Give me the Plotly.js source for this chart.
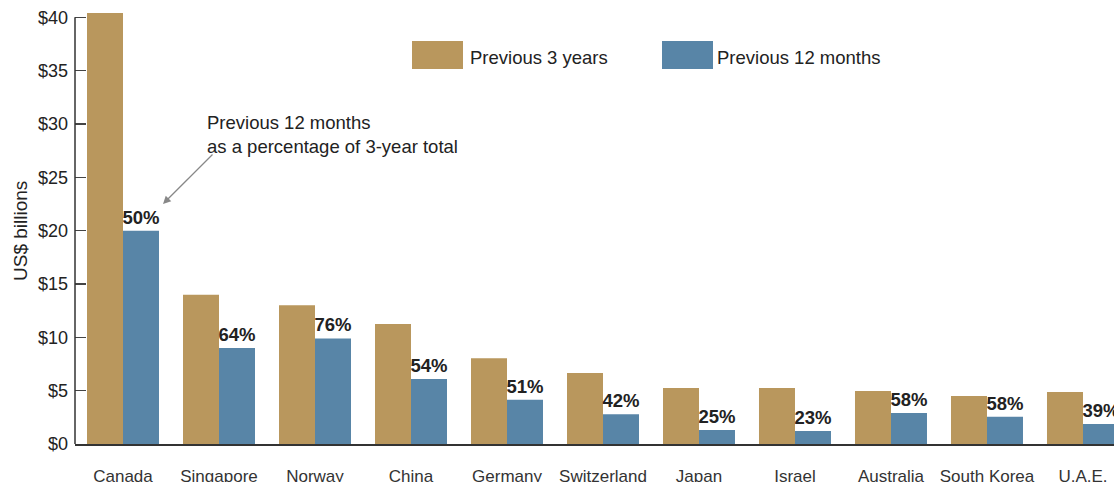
<!DOCTYPE html>
<html>
<head>
<meta charset="utf-8">
<script src="https://cdn.plot.ly/plotly-3.0.1.min.js"></script>
<style>html,body{margin:0;padding:0;background:#fff;}#chart{width:1114px;height:482px;}</style>
</head>
<body>
<div id="chart"></div>
<script>
const countries = ["Canada","Singapore","Norway","China","Germany","Switzerland","Japan","Israel","Australia","South Korea","U.A.E."];
const previous3Years = [40.4, 14.0, 13.0, 11.25, 8.05, 6.65, 5.25, 5.25, 4.97, 4.5, 4.87];
const previous12Months = [20.0, 9.0, 9.9, 6.1, 4.15, 2.8, 1.31, 1.22, 2.9, 2.55, 1.88];
const percentLabels = ["50%","64%","76%","54%","51%","42%","25%","23%","58%","58%","39%"];
const yTickValues = [0,5,10,15,20,25,30,35,40];
const yTickLabels = ["$0","$5","$10","$15","$20","$25","$30","$35","$40"];
const seriesNames = ["Previous 3 years","Previous 12 months"];
const colors = ["#B9975D","#5885A7"];

const baseFont = "Liberation Sans, Arial, Helvetica, sans-serif";

const traces = [
  {type:"bar", name:seriesNames[0], x:countries, y:previous3Years, marker:{color:colors[0]}, hoverinfo:"x+y"},
  {type:"bar", name:seriesNames[1], x:countries, y:previous12Months, marker:{color:colors[1]},
   text:percentLabels, textposition:"outside", cliponaxis:false, constraintext:"none",
   textfont:{family:baseFont, size:18.5, color:"#222", weight:"bold"}, hoverinfo:"x+y"}
];

const layout = {
  width:1114, height:482,
  margin:{l:75, r:0, t:0, b:38, pad:0},
  paper_bgcolor:"#fff", plot_bgcolor:"#fff",
  barmode:"group", bargap:0.25, bargroupgap:0,
  showlegend:false,
  font:{family:baseFont, color:"#222"},
  xaxis:{
    type:"category", range:[-0.5, 10.323], fixedrange:true,
    showline:true, linecolor:"#333", linewidth:1.5,
    ticks:"", showgrid:false, zeroline:false, tickangle:0,
    tickfont:{family:baseFont, size:17, color:"#333"},
    ticklabelstandoff:16
  },
  yaxis:{
    range:[0, 41.625], fixedrange:true,
    tickvals:yTickValues, ticktext:yTickLabels,
    ticks:"inside", ticklen:11, tickwidth:1.5, tickcolor:"#444",
    showline:false, showgrid:false, zeroline:false,
    tickfont:{family:baseFont, size:18, color:"#222"},
    ticklabelstandoff:6
  },
  shapes:[
    {type:"line", xref:"paper", yref:"y", x0:0, x1:0, y0:0, y1:40, line:{color:"#333", width:1.5}},
    {type:"rect", xref:"paper", yref:"paper", x0:(412-75)/1039, x1:(463-75)/1039, y0:(444-69)/444, y1:(444-41)/444, fillcolor:colors[0], line:{width:0}},
    {type:"rect", xref:"paper", yref:"paper", x0:(662-75)/1039, x1:(713-75)/1039, y0:(444-69)/444, y1:(444-41)/444, fillcolor:colors[1], line:{width:0}}
  ],
  annotations:[
    {xref:"paper", yref:"paper", x:(20-75)/1039, y:(444-231)/444, xanchor:"center", yanchor:"middle", showarrow:false, textangle:-90,
     text:"US$ billions", font:{family:baseFont, size:19, color:"#222"}},
    {xref:"paper", yref:"paper", x:(468-75)/1039, y:(444-57)/444, xanchor:"left", yanchor:"middle", showarrow:false,
     text:seriesNames[0], font:{family:baseFont, size:18.5, color:"#222"}},
    {xref:"paper", yref:"paper", x:(715-75)/1039, y:(444-57)/444, xanchor:"left", yanchor:"middle", showarrow:false,
     text:seriesNames[1], font:{family:baseFont, size:18.5, color:"#222"}},
    {xref:"paper", yref:"paper", x:(205-75)/1039, y:(444-110)/444, xanchor:"left", yanchor:"top", showarrow:false, align:"left",
     text:"Previous 12 months<br>as a percentage of 3-year total", font:{family:baseFont, size:18.5, color:"#222"}},
    {xref:"paper", yref:"paper", x:(163-75)/1039, y:(444-204)/444, ax:(214-75)/1039, ay:(444-153)/444, axref:"paper", ayref:"paper",
     showarrow:true, arrowhead:2, arrowsize:1.2, arrowwidth:1.3, arrowcolor:"#888", text:""}
  ]
};

Plotly.newPlot("chart", traces, layout, {displayModeBar:false, staticPlot:true});
</script>
</body>
</html>
